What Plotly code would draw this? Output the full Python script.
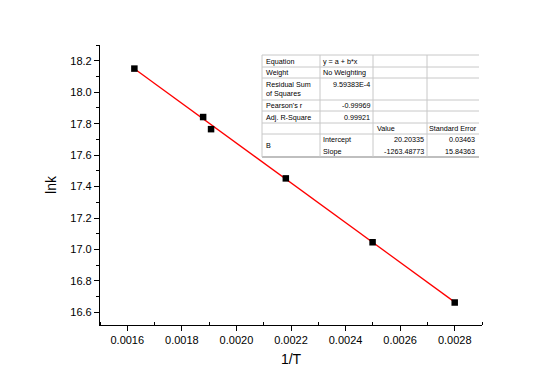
import plotly.graph_objects as go

# Data
inv_T = [0.001626, 0.001878, 0.001907, 0.002181, 0.002499, 0.0028]
lnk = [18.150, 17.842, 17.765, 17.452, 17.046, 16.663]
intercept = 20.20335
slope = -1263.48773

table_rows = [
    ["Equation", "y = a + b*x", "", ""],
    ["Weight", "No Weighting", "", ""],
    ["Residual Sum<br>of Squares", "9.59383E-4", "", ""],
    ["Pearson's r", "-0.99969", "", ""],
    ["Adj. R-Square", "0.99921", "", ""],
    ["", "", "Value", "Standard Error"],
]
param_name = "B"
param_rows = [["Intercept", "20.20335", "0.03463"],
              ["Slope", "-1263.48773", "15.84363"]]

# Layout geometry (pixels)
L, R, T, B = 100, 482, 45, 325
W, H = 560, 390
def px(x): return (x - L) / (R - L)
def py(y): return (B - y) / (B - T)

fit_x = [min(inv_T), max(inv_T)]
fit_y = [intercept + slope * v for v in fit_x]

fig = go.Figure()
fig.add_trace(go.Scatter(x=fit_x, y=fit_y, mode="lines",
                         line=dict(color="#ff0000", width=1.3), hoverinfo="skip"))
fig.add_trace(go.Scatter(x=inv_T, y=lnk, mode="markers",
                         marker=dict(symbol="square", color="black", size=6.5,
                                     line=dict(width=0))))

font = "Liberation Sans, Arial, sans-serif"
shapes = []
annotations = []

# Table lines
xl, c1, c2, c3, xr = 262, 320, 373, 427, 479
hlines = [55, 67, 78, 100, 111, 123, 134]
for yy in hlines:
    shapes.append(dict(type="line", xref="paper", yref="paper",
                       x0=px(xl), x1=px(xr), y0=py(yy), y1=py(yy),
                       line=dict(color="#c8c8c8", width=1)))
shapes.append(dict(type="line", xref="paper", yref="paper",
                   x0=px(xl), x1=px(xr), y0=py(157), y1=py(157),
                   line=dict(color="#808080", width=1.2)))
for xx in [xl, c1, c2, c3]:
    shapes.append(dict(type="line", xref="paper", yref="paper",
                       x0=px(xx), x1=px(xx), y0=py(55), y1=py(157),
                       line=dict(color="#c8c8c8", width=1)))

row_centers = [61, 72, 89, 105.5, 117, 128.5]
tfs = 7.2
def txt(s, x, y, anchor):
    annotations.append(dict(text=s, x=px(x), y=py(y), xref="paper", yref="paper",
                            xanchor=anchor, yanchor="middle", showarrow=False,
                            align=anchor,
                            font=dict(size=tfs, color="black", family=font)))

for row, yc in zip(table_rows, row_centers):
    c0, cA, cB, cC = row
    if c0:
        txt(c0, xl + 2, yc, "left")
    if cA:
        yA = 84.5 if "<br>" in c0 else yc
        if cA[0].isdigit() or cA[0] == "-":
            txt(cA, c2 - 1, yA, "right")
        else:
            txt(cA, c1 + 1, yA, "left")
    if cB:
        txt(cB, c2 + 2, yc, "left")
    if cC:
        txt(cC, c3, yc, "left")

txt(param_name, xl + 2, 145.5, "left")
for (nm, val, err), yc in zip(param_rows, [139.5, 151]):
    txt(nm, c1 + 1, yc, "left")
    txt(val, c3 - 1, yc, "right")
    txt(err, xr - 2, yc, "right")

fig.update_layout(
    width=W, height=H,
    margin=dict(l=L, r=W - R, t=T, b=H - B),
    paper_bgcolor="white", plot_bgcolor="white",
    showlegend=False,
    font=dict(family=font, color="black"),
    shapes=shapes, annotations=annotations,
    xaxis=dict(range=[0.0015, 0.0029], tickvals=[0.0016, 0.0018, 0.0020, 0.0022, 0.0024, 0.0026, 0.0028],
               ticktext=["0.0016", "0.0018", "0.0020", "0.0022", "0.0024", "0.0026", "0.0028"],
               showgrid=False, zeroline=False, showline=True, linecolor="black", linewidth=1.2,
               ticks="outside", ticklen=5, tickwidth=1, tickcolor="black",
               tickfont=dict(size=11, family=font),
               minor=dict(tickvals=[0.0015, 0.0017, 0.0019, 0.0021, 0.0023, 0.0025, 0.0027, 0.0029],
                          ticks="inside", ticklen=3, tickcolor="black", showgrid=False),
               title=dict(text="1/T", font=dict(size=14, family=font), standoff=8)),
    yaxis=dict(range=[16.52, 18.30], tickvals=[16.6, 16.8, 17.0, 17.2, 17.4, 17.6, 17.8, 18.0, 18.2],
               ticktext=["16.6", "16.8", "17.0", "17.2", "17.4", "17.6", "17.8", "18.0", "18.2"],
               showgrid=False, zeroline=False, showline=True, linecolor="black", linewidth=1.2,
               ticks="outside", ticklen=5, tickwidth=1, tickcolor="black",
               tickfont=dict(size=11, family=font),
               minor=dict(tickvals=[16.7, 16.9, 17.1, 17.3, 17.5, 17.7, 17.9, 18.1, 18.3],
                          ticks="outside", ticklen=3, tickcolor="black", showgrid=False),
               title=dict(text="lnk", font=dict(size=14, family=font), standoff=10)),
)

fig.write_html("out.html")
